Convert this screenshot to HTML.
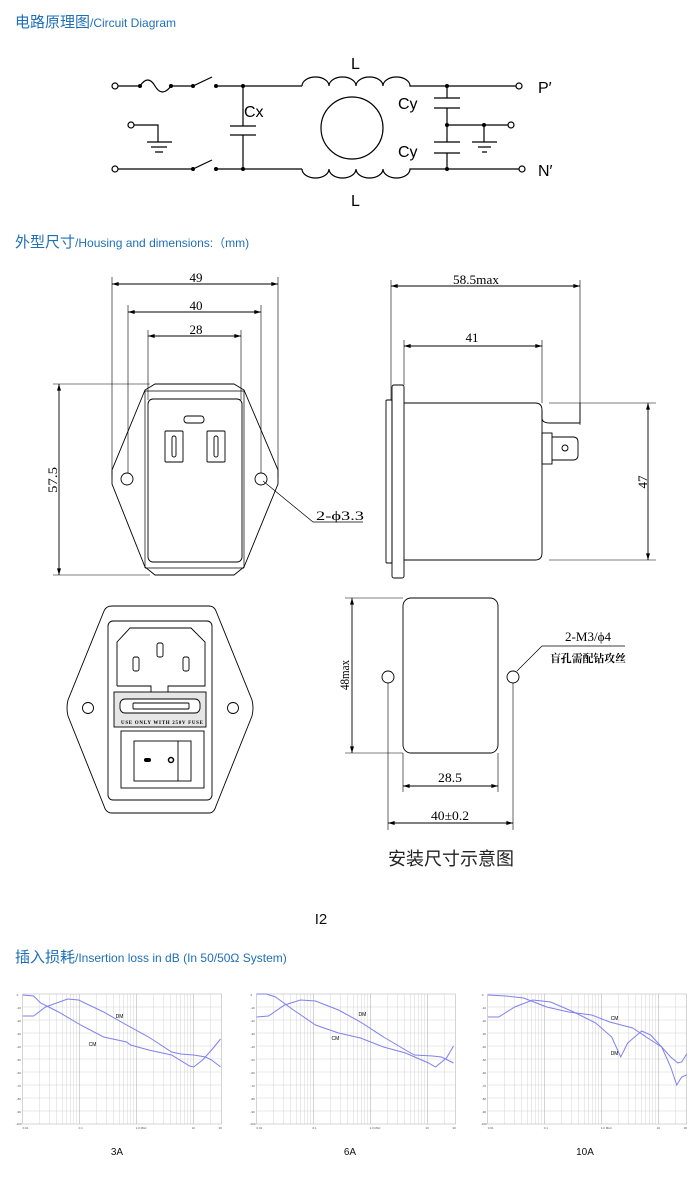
<!DOCTYPE html>
<html><head><meta charset="utf-8"><style>
html,body{margin:0;padding:0;background:#fff;}
svg{display:block;}
.t{font-family:"Liberation Sans","Noto Sans CJK SC",sans-serif;}
</style></head><body>
<svg width="700" height="1178" viewBox="0 0 700 1178" xmlns="http://www.w3.org/2000/svg">
<defs>
<marker id="a" viewBox="0 0 10 6" refX="10" refY="3" markerWidth="10" markerHeight="4" orient="auto-start-reverse" markerUnits="userSpaceOnUse"><path d="M0,0 L10,3 L0,6 Z" fill="#000"/></marker>
<g id="grid" stroke-width="0.5" fill="none">
<g stroke="#d4d4d4">
<path d="M0,13H199M0,26H199M0,39H199M0,52H199M0,65H199M0,78H199M0,91H199M0,104H199M0,117H199"/>
<path d="M17,0V130M27,0V130M34,0V130M40,0V130M44,0V130M48,0V130M51,0V130M54,0V130M74,0V130M84,0V130M91,0V130M97,0V130M101,0V130M105,0V130M108,0V130M111,0V130M131,0V130M141,0V130M148,0V130M154,0V130M158,0V130M162,0V130M165,0V130M168,0V130M188,0V130"/>
</g>
<path d="M57,0V130M114,0V130M171,0V130" stroke="#aaa"/>
<rect x="0" y="0" width="199" height="130" stroke="#aaa"/>
<g class="t" font-size="3" fill="#555" stroke="none">
<text x="-6" y="2">0</text><text x="-6" y="15">-10</text><text x="-6" y="28">-20</text><text x="-6" y="41">-30</text><text x="-6" y="54">-40</text><text x="-6" y="67">-50</text><text x="-6" y="80">-60</text><text x="-6" y="93">-70</text><text x="-6" y="106">-80</text><text x="-6" y="119">-90</text><text x="-7" y="131">-100</text>
<text x="0" y="135">0.01</text><text x="56" y="135">0.1</text><text x="113" y="135">1.0 MHz</text><text x="169" y="135">10</text><text x="196" y="135">30</text>
</g>
</g>
</defs>

<!-- Titles -->
<text class="t" x="15" y="27" fill="#1e6fb8" font-size="15">电路原理图<tspan font-size="12">/Circuit Diagram</tspan></text>
<text class="t" x="15" y="247" fill="#1e6fb8" font-size="15">外型尺寸<tspan font-size="12">/Housing and dimensions:（mm)</tspan></text>
<text class="t" x="15" y="962" fill="#1e6fb8" font-size="15">插入损耗<tspan font-size="12">/Insertion loss in dB    (In 50/50Ω System)</tspan></text>

<!-- Circuit -->
<g stroke="#000" stroke-width="1.2" fill="none">
<circle cx="115" cy="86" r="3"/><circle cx="115" cy="169" r="3"/>
<path d="M118,86H140 q8,-12 15,0 t16,0 H193 L212,77 M216,86H302"/>
<path d="M302,86 a13.5,9 0 0 1 27,0 a13.5,9 0 0 1 27,0 a13.5,9 0 0 1 27,0 a13.5,9 0 0 1 27,0 H516"/>
<circle cx="519" cy="86" r="3"/>
<path d="M118,169H193 L212,160 M216,169H302"/>
<path d="M302,169 a13.5,9 0 0 0 27,0 a13.5,9 0 0 0 27,0 a13.5,9 0 0 0 27,0 a13.5,9 0 0 0 27,0 H519"/>
<circle cx="522" cy="169" r="3"/>
<circle cx="131" cy="125" r="3"/>
<path d="M134,125H158V142 M147,142H172 M151,147H167 M155,152H163"/>
<path d="M243,86V126 M230,126H256 M230,135H256 M243,135V169"/>
<circle cx="352" cy="128" r="31"/>
<path d="M447,86V98 M434,98H460 M434,108H460 M447,108V142 M434,142H460 M434,153H460 M447,153V169"/>
<path d="M447,125H508 M484,125V142 M472,142H497 M478,147H491 M482,152H487"/>
<circle cx="511" cy="125" r="3"/>
</g>
<g fill="#000">
<circle cx="140" cy="86" r="2"/><circle cx="171" cy="86" r="2"/><circle cx="193" cy="86" r="2"/><circle cx="216" cy="86" r="2"/><circle cx="243" cy="86" r="2"/>
<circle cx="193" cy="169" r="2"/><circle cx="216" cy="169" r="2"/><circle cx="243" cy="169" r="2"/>
<circle cx="447" cy="86" r="2"/><circle cx="447" cy="169" r="2"/><circle cx="447" cy="125" r="2"/><circle cx="484" cy="125" r="2"/>
</g>
<g class="t" font-size="16" fill="#000">
<text x="351" y="69">L</text><text x="351" y="206">L</text>
<text x="244" y="117">Cx</text>
<text x="398" y="109">Cy</text><text x="398" y="157">Cy</text>
<text x="538" y="93">P′</text><text x="538" y="176">N′</text>
</g>

<!-- Front view -->
<g stroke="#000" stroke-width="0.9" fill="none">
<path d="M112,284H278" marker-start="url(#a)" marker-end="url(#a)"/>
<path d="M128,312H261" marker-start="url(#a)" marker-end="url(#a)"/>
<path d="M148,336H241" marker-start="url(#a)" marker-end="url(#a)"/>
<path d="M112,277V477 M278,277V477 M128,305V473 M261,305V473 M148,330V400 M241,330V400" stroke-width="0.6"/>
<path d="M155,384H234 L244,390 L278,470 L278,484 L244,567 L234,575 H155 L145,567 L112,484 L112,470 L145,390 Z"/>
<path d="M145,391H244 M145,568H244 M145,391V568 M244,391V568" stroke-width="0.7"/>
<rect x="148" y="399" width="94" height="163" rx="5"/>
<rect x="184" y="416" width="20" height="7" rx="3"/>
<rect x="165" y="431" width="18" height="31" rx="1"/><rect x="172" y="436" width="4" height="21" rx="2"/>
<rect x="207" y="431" width="18" height="31" rx="1"/><rect x="214" y="436" width="4" height="21" rx="2"/>
<circle cx="127" cy="479" r="6"/><circle cx="261" cy="479" r="6"/>
<path d="M53,384H150 M53,575H150" stroke-width="0.6"/>
<path d="M59,384V575" marker-start="url(#a)" marker-end="url(#a)"/>
<path d="M263,481L313,522H363" stroke-width="0.7"/>
</g>
<g font-family="Liberation Serif,serif" font-size="13" fill="#000">
<text x="196" y="282" text-anchor="middle" textLength="13" lengthAdjust="spacingAndGlyphs">49</text>
<text x="196" y="310" text-anchor="middle" textLength="13" lengthAdjust="spacingAndGlyphs">40</text>
<text x="196" y="334" text-anchor="middle" textLength="13" lengthAdjust="spacingAndGlyphs">28</text>
<text transform="translate(57,480) rotate(-90)" text-anchor="middle" textLength="26" lengthAdjust="spacingAndGlyphs">57.5</text>
<text x="316" y="520" textLength="48" lengthAdjust="spacingAndGlyphs">2-ϕ3.3</text>
<text x="476" y="284" text-anchor="middle" textLength="46" lengthAdjust="spacingAndGlyphs">58.5max</text>
<text x="472" y="342" text-anchor="middle" textLength="13" lengthAdjust="spacingAndGlyphs">41</text>
<text transform="translate(647,482) rotate(-90)" text-anchor="middle" textLength="13" lengthAdjust="spacingAndGlyphs">47</text>
<text transform="translate(349,675) rotate(-90)" text-anchor="middle" textLength="30" lengthAdjust="spacingAndGlyphs">48max</text>
<text x="450" y="782" text-anchor="middle" textLength="24" lengthAdjust="spacingAndGlyphs">28.5</text>
<text x="450" y="820" text-anchor="middle" textLength="38" lengthAdjust="spacingAndGlyphs">40±0.2</text>
<text x="588" y="641" text-anchor="middle" textLength="46" lengthAdjust="spacingAndGlyphs">2-M3/ϕ4</text>
</g>
<text x="588" y="662" text-anchor="middle" font-family="'Noto Serif CJK SC','Noto Sans CJK SC',serif" font-weight="bold" font-size="11" textLength="76" lengthAdjust="spacingAndGlyphs">盲孔需配钻攻丝</text>

<!-- Side view -->
<g stroke="#000" stroke-width="0.9" fill="none">
<path d="M391,286H580" marker-start="url(#a)" marker-end="url(#a)"/>
<path d="M404,346H542" marker-start="url(#a)" marker-end="url(#a)"/>
<path d="M648,403V560" marker-start="url(#a)" marker-end="url(#a)"/>
<path d="M391,280V400 M580,280V425 M404,340V385 M542,340V403 M549,403H656 M549,560H656" stroke-width="0.6"/>
<rect x="392" y="385" width="12" height="193" rx="2"/>
<rect x="386" y="400" width="6" height="163" rx="1"/>
<path d="M404,403H535 Q542,403 542,410 V553 Q542,560 535,560 H404"/>
<path d="M542,410 V418 Q542,423 550,423 H580 V403"/>
<rect x="542" y="433" width="10" height="31"/>
<path d="M552,437H573 Q578,437 578,442 V455 Q578,460 573,460 H552"/>
<circle cx="565" cy="448" r="3"/>
</g>

<!-- Front panel -->
<g stroke="#000" stroke-width="0.9" fill="none">
<path d="M112,606H209 Q214,606 216,611 L252,700 Q254,708 252,716 L216,806 Q214,813 209,813 H112 Q106,813 104,806 L68,716 Q66,708 68,700 L104,611 Q106,606 112,606 Z"/>
<rect x="108" y="621" width="104" height="179" rx="5"/>
<path d="M117,686V642 L130,628 H191 L205,642 V686 H168 V692 M151,692 V686 H117"/>
<rect x="157" y="643" width="6" height="14" rx="2"/>
<rect x="133" y="657" width="6" height="14" rx="2"/>
<rect x="183" y="657" width="6" height="14" rx="2"/>
<rect x="114" y="692" width="92" height="35" fill="#e6e6e6"/>
<rect x="120" y="699" width="80" height="14" rx="5" fill="#fff"/>
<rect x="133" y="703" width="56" height="6" rx="1"/>
<rect x="121" y="731" width="83" height="57"/>
<rect x="134" y="741" width="57" height="40"/>
<path d="M178,741V781"/>
<circle cx="171" cy="760" r="2.5" stroke-width="1.5"/>
<circle cx="88" cy="708" r="5.5"/><circle cx="233" cy="708" r="5.5"/>
</g>
<rect x="144" y="758" width="7" height="4" rx="2" fill="#000"/>
<text x="162" y="724" text-anchor="middle" font-family="Liberation Serif,serif" font-size="5" font-weight="bold" textLength="82" lengthAdjust="spacing">USE ONLY WITH 250V FUSE</text>

<!-- Bottom view -->
<g stroke="#000" stroke-width="0.9" fill="none">
<rect x="403" y="598" width="95" height="155" rx="8"/>
<path d="M352,598V753" marker-start="url(#a)" marker-end="url(#a)"/>
<path d="M403,786H498" marker-start="url(#a)" marker-end="url(#a)"/>
<path d="M388,823H513" marker-start="url(#a)" marker-end="url(#a)"/>
<path d="M345,598H403 M345,753H403 M403,753V792 M498,753V792 M388,683V830 M513,683V830" stroke-width="0.6"/>
<circle cx="388" cy="677" r="6"/><circle cx="513" cy="677" r="6"/>
<path d="M517,671L542,646H625" stroke-width="0.7"/>
</g>
<text class="t" x="451" y="865" text-anchor="middle" font-size="18" fill="#222">安装尺寸示意图</text>

<text class="t" x="321" y="924" text-anchor="middle" font-size="15" fill="#111">I2</text>

<!-- Charts -->
<g transform="translate(22.6,994)"><use href="#grid"/>
<g fill="none" stroke="#8080ee" stroke-width="1">
<polyline points="0,1 11,2 18,9 36,18 58,31 81,43 104,48 108,51 126,56 149,61 167,72 171,73 180,66 189,56 198,45"/>
<polyline points="0,22 11,22 23,13 45,5 56,6 81,18 104,31 126,43 149,58 158,60 171,61 183,63 189,66 198,73"/>
</g>
<text class="t" x="93" y="24" font-size="5">DM</text><text class="t" x="66" y="52" font-size="5">CM</text>
</g>
<g transform="translate(256.5,994)"><use href="#grid"/>
<g fill="none" stroke="#8080ee" stroke-width="1">
<polyline points="0,0 10,0 19,3 37,16 59,31 82,39 104,44 127,53 149,59 172,69 179,73 190,64 197,52"/>
<polyline points="0,23 12,22 28,11 44,6 59,7 82,16 104,28 127,43 149,56 158,61 176,62 185,63 197,69"/>
</g>
<text class="t" x="102" y="22" font-size="5">DM</text><text class="t" x="75" y="46" font-size="5">CM</text>
</g>
<g transform="translate(487.7,994)"><use href="#grid"/>
<g fill="none" stroke="#8080ee" stroke-width="1">
<polyline points="0,1 18,2 36,4 59,13 81,18 104,21 122,28 145,34 163,46 174,53 183,63 190,69 194,68 199,60"/>
<polyline points="0,23 11,23 27,13 45,6 63,8 86,18 108,29 124,43 133,63 140,49 154,37 163,41 174,53 183,73 189,91 194,83 199,81"/>
</g>
<text class="t" x="123" y="26" font-size="5">CM</text><text class="t" x="123" y="61" font-size="5">DM</text>
</g>
<g class="t" font-size="10" fill="#111" text-anchor="middle">
<text x="117" y="1155">3A</text><text x="350" y="1155">6A</text><text x="585" y="1155">10A</text>
</g>
</svg>
</body></html>
